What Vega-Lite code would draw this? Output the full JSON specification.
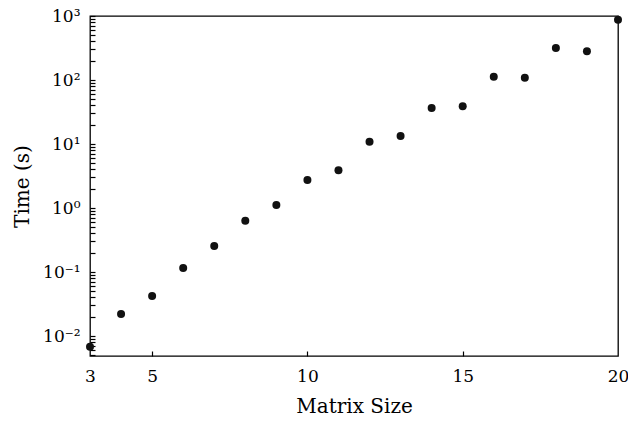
{
  "$schema": "https://vega.github.io/schema/vega-lite/v6.json",
  "autosize": "none",
  "width": 528,
  "height": 340,
  "padding": {"left": 90, "top": 16, "right": 10, "bottom": 66},
  "background": "white",
  "config": {
    "view": {"stroke": "black", "strokeWidth": 1.3},
    "axis": {
      "grid": false,
      "domain": false,
      "tickColor": "black",
      "tickWidth": 1.2,
      "labelFont": "DejaVu Serif",
      "labelFontSize": 17,
      "labelColor": "black",
      "labelFlush": false,
      "titleFont": "DejaVu Serif",
      "titleFontSize": 20,
      "titleFontWeight": "normal",
      "titleColor": "black"
    }
  },
  "data": {
    "values": [
      {"n": 3, "t": 0.0068},
      {"n": 4, "t": 0.022},
      {"n": 5, "t": 0.042},
      {"n": 6, "t": 0.115},
      {"n": 7, "t": 0.255},
      {"n": 8, "t": 0.63},
      {"n": 9, "t": 1.11},
      {"n": 10, "t": 2.74},
      {"n": 11, "t": 3.9},
      {"n": 12, "t": 10.8},
      {"n": 13, "t": 13.3},
      {"n": 14, "t": 36.5},
      {"n": 15, "t": 39},
      {"n": 16, "t": 112},
      {"n": 17, "t": 108},
      {"n": 18, "t": 316},
      {"n": 19, "t": 282},
      {"n": 20, "t": 870}
    ]
  },
  "layer": [
    {
      "mark": {"type": "circle", "size": 64, "color": "#111111", "opacity": 1, "clip": false},
      "encoding": {
        "x": {
          "field": "n", "type": "quantitative",
          "scale": {"domain": [3, 20], "nice": false, "zero": false},
          "axis": {
            "orient": "bottom", "title": "Matrix Size",
            "values": [3, 5, 10, 15, 20],
            "tickSize": 0, "labelPadding": 12, "titlePadding": 12
          }
        },
        "y": {
          "field": "t", "type": "quantitative",
          "scale": {"type": "log", "domain": [0.00487, 1000], "nice": false},
          "axis": {
            "orient": "left", "title": "Time (s)",
            "values": [0.01, 0.1, 1, 10, 100, 1000],
            "tickSize": 0,
            "labelExpr": "round(log(datum.value)/LN10) == 3 ? '10³' : round(log(datum.value)/LN10) == 2 ? '10²' : round(log(datum.value)/LN10) == 1 ? '10¹' : round(log(datum.value)/LN10) == 0 ? '10⁰' : round(log(datum.value)/LN10) == -1 ? '10⁻¹' : round(log(datum.value)/LN10) == -2 ? '10⁻²' : ''",
            "labelPadding": 10,
            "labelOverlap": false,
            "titlePadding": 10
          }
        }
      }
    },
    {
      "mark": {"type": "circle", "size": 64, "opacity": 0},
      "encoding": {
        "x": {
          "field": "n", "type": "quantitative",
          "axis": {
            "orient": "top", "offset": -340, "title": null, "labels": false,
            "values": [5, 10, 15], "tickSize": 5
          }
        },
        "y": {
          "field": "t", "type": "quantitative",
          "axis": {
            "orient": "right", "offset": -528, "title": null, "labels": false,
            "values": [0.005, 0.006, 0.007, 0.008, 0.009, 0.01, 0.02, 0.03, 0.04, 0.05, 0.06, 0.07, 0.08, 0.09, 0.1, 0.2, 0.3, 0.4, 0.5, 0.6, 0.7, 0.8, 0.9, 1, 2, 3, 4, 5, 6, 7, 8, 9, 10, 20, 30, 40, 50, 60, 70, 80, 90, 100, 200, 300, 400, 500, 600, 700, 800, 900, 1000],
            "tickSize": 5
          }
        }
      }
    }
  ],
  "resolve": {"axis": {"x": "independent", "y": "independent"}}
}
